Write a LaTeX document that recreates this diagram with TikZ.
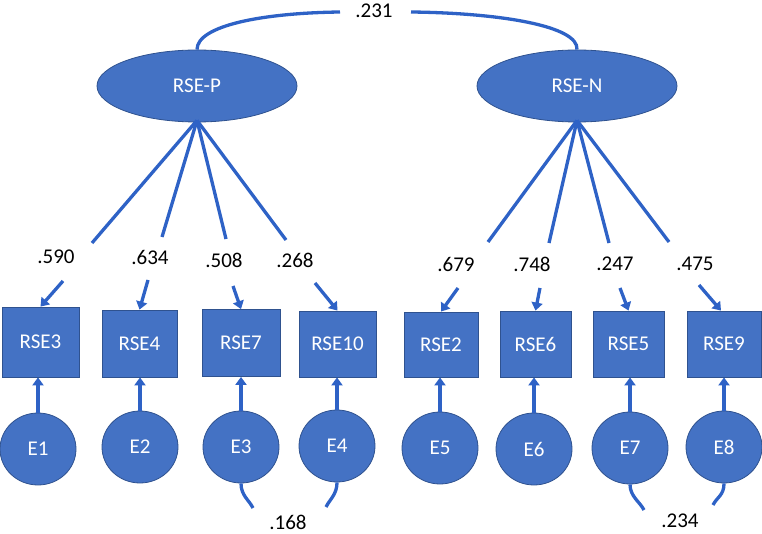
\documentclass[tikz,border=0pt]{standalone}
\usepackage{fontspec}
\setmainfont{Carlito}
\usetikzlibrary{shapes.geometric,arrows.meta}
\definecolor{boxfill}{HTML}{4472C4}
\definecolor{boxline}{HTML}{2F528F}
\definecolor{conn}{HTML}{2E62C6}
\tikzset{
  latent/.style={ellipse,draw=boxline,fill=boxfill,line width=0.8pt,minimum width=200pt,minimum height=72pt,inner sep=0pt,text=white,font=\fontsize{21}{21}\selectfont},
  errnode/.style={ellipse,draw=boxline,fill=boxfill,line width=0.8pt,minimum width=76pt,minimum height=72pt,inner sep=0pt,text=white,font=\fontsize{21}{21}\selectfont},
  obsbox/.style={rectangle,draw=boxline,fill=boxfill,line width=0.8pt,minimum width=75pt,minimum height=67pt,inner sep=0pt,text=white,font=\fontsize{21}{21}\selectfont},
  num/.style={inner sep=0pt,text=black,font=\fontsize{21}{21}\selectfont},
  conline/.style={draw=conn,line width=3.3pt},
  arr/.style={draw=conn,line width=3.3pt,-{Triangle[length=8pt,width=11pt]}},
}
\begin{document}
\begin{tikzpicture}[x=1pt,y=-1pt]
\useasboundingbox (0,0) rectangle (762,534);
% latent
\node[latent] (P) at (197,86) {RSE-P};
\node[latent] (N) at (577,86) {RSE-N};
% observed
\node[obsbox,minimum width=77pt,minimum height=70pt] (b3) at (40.5,342) {RSE3};
\node[obsbox] (b4) at (139.5,343.5) {RSE4};
\node[obsbox,minimum width=78pt] (b7) at (241,343) {RSE7};
\node[obsbox,minimum width=77pt,minimum height=66pt] (b10) at (337.5,344) {RSE10};
\node[obsbox,minimum width=74pt,minimum height=65pt] (b2) at (441,344.5) {RSE2};
\node[obsbox,minimum width=71pt,minimum height=66pt] (b6) at (535.5,344) {RSE6};
\node[obsbox,minimum width=71pt,minimum height=66pt] (b5) at (628.5,344) {RSE5};
\node[obsbox,minimum width=74pt,minimum height=66pt] (b9) at (724,344) {RSE9};
% errors
\node[errnode] (E1) at (38,449) {E1};
\node[errnode] (E2) at (140,447) {E2};
\node[errnode] (E3) at (241,447) {E3};
\node[errnode] (E4) at (337,446) {E4};
\node[errnode] (E5) at (440,448) {E5};
\node[errnode] (E6) at (534,449) {E6};
\node[errnode] (E7) at (630,448) {E7};
\node[errnode] (E8) at (724,447) {E8};
% labels
\node[num] (l231) at (374,11) {.231};
\node[num] (l590) at (56,257) {.590};
\node[num] (l634) at (150,257) {.634};
\node[num] (l508) at (224,260) {.508};
\node[num] (l268) at (295,260) {.268};
\node[num] (l679) at (456,264) {.679};
\node[num] (l748) at (532,264) {.748};
\node[num] (l247) at (615,264) {.247};
\node[num] (l475) at (695,264) {.475};
\node[num] (l168) at (288,522) {.168};
\node[num] (l234) at (680,521) {.234};
% coordinates
\coordinate (t1) at (340,12);
\coordinate (t2) at (411,12);
\coordinate (p1) at (92,243);
\coordinate (p2) at (162,237);
\coordinate (p3) at (226,239);
\coordinate (p4) at (286,240);
\coordinate (n1) at (488,242);
\coordinate (n2) at (549,243);
\coordinate (n3) at (609,243);
\coordinate (n4) at (669,242);
\coordinate (a1) at (63,281);
\coordinate (a2) at (148,280);
\coordinate (a3) at (233,286);
\coordinate (a4) at (315,283);
\coordinate (a5) at (458,288);
\coordinate (a6) at (540,288);
\coordinate (a7) at (620,288);
\coordinate (a8) at (699,285);
\coordinate (c3) at (253,508);
\coordinate (c4) at (326,507);
\coordinate (c7) at (644,510);
\coordinate (c8) at (713,505);
% covariance top
\draw[conline] (P.north) .. controls +(0,-24) and (262,13) .. (t1);
\draw[conline] (t2) .. controls (500,13) and (579,26) .. (N.north);
% loadings
\foreach \c in {p1,p2,p3,p4} \draw[conline] ([yshift=2pt]P.south) -- (\c);
\foreach \c in {n1,n2,n3,n4} \draw[conline] ([yshift=2pt]N.south) -- (\c);
\draw[arr] (a1) -- (b3.north);
\draw[arr] (a2) -- (b4.north);
\draw[arr] (a3) -- (b7.north);
\draw[arr] (a4) -- (b10.north);
\draw[arr] (a5) -- (b2.north);
\draw[arr] (a6) -- (b6.north);
\draw[arr] (a7) -- (b5.north);
\draw[arr] (a8) -- ([xshift=-3pt]b9.north);
% errors to boxes
\foreach \e/\b in {E1/b3,E2/b4,E3/b7,E4/b10,E5/b2,E6/b6,E7/b5,E8/b9}
  \draw[arr] (\e.north) -- (\e.north |- \b.south);
% bottom covariances
\draw[conline] (E3.south) .. controls +(0,12) and +(-4,-8) .. (c3);
\draw[conline] (E4.south) .. controls +(0,12) and +(4,-8) .. (c4);
\draw[conline] (E7.south) .. controls +(0,12) and +(-4,-8) .. (c7);
\draw[conline] (E8.south) .. controls +(0,12) and +(4,-8) .. (c8);
\end{tikzpicture}
\end{document}
